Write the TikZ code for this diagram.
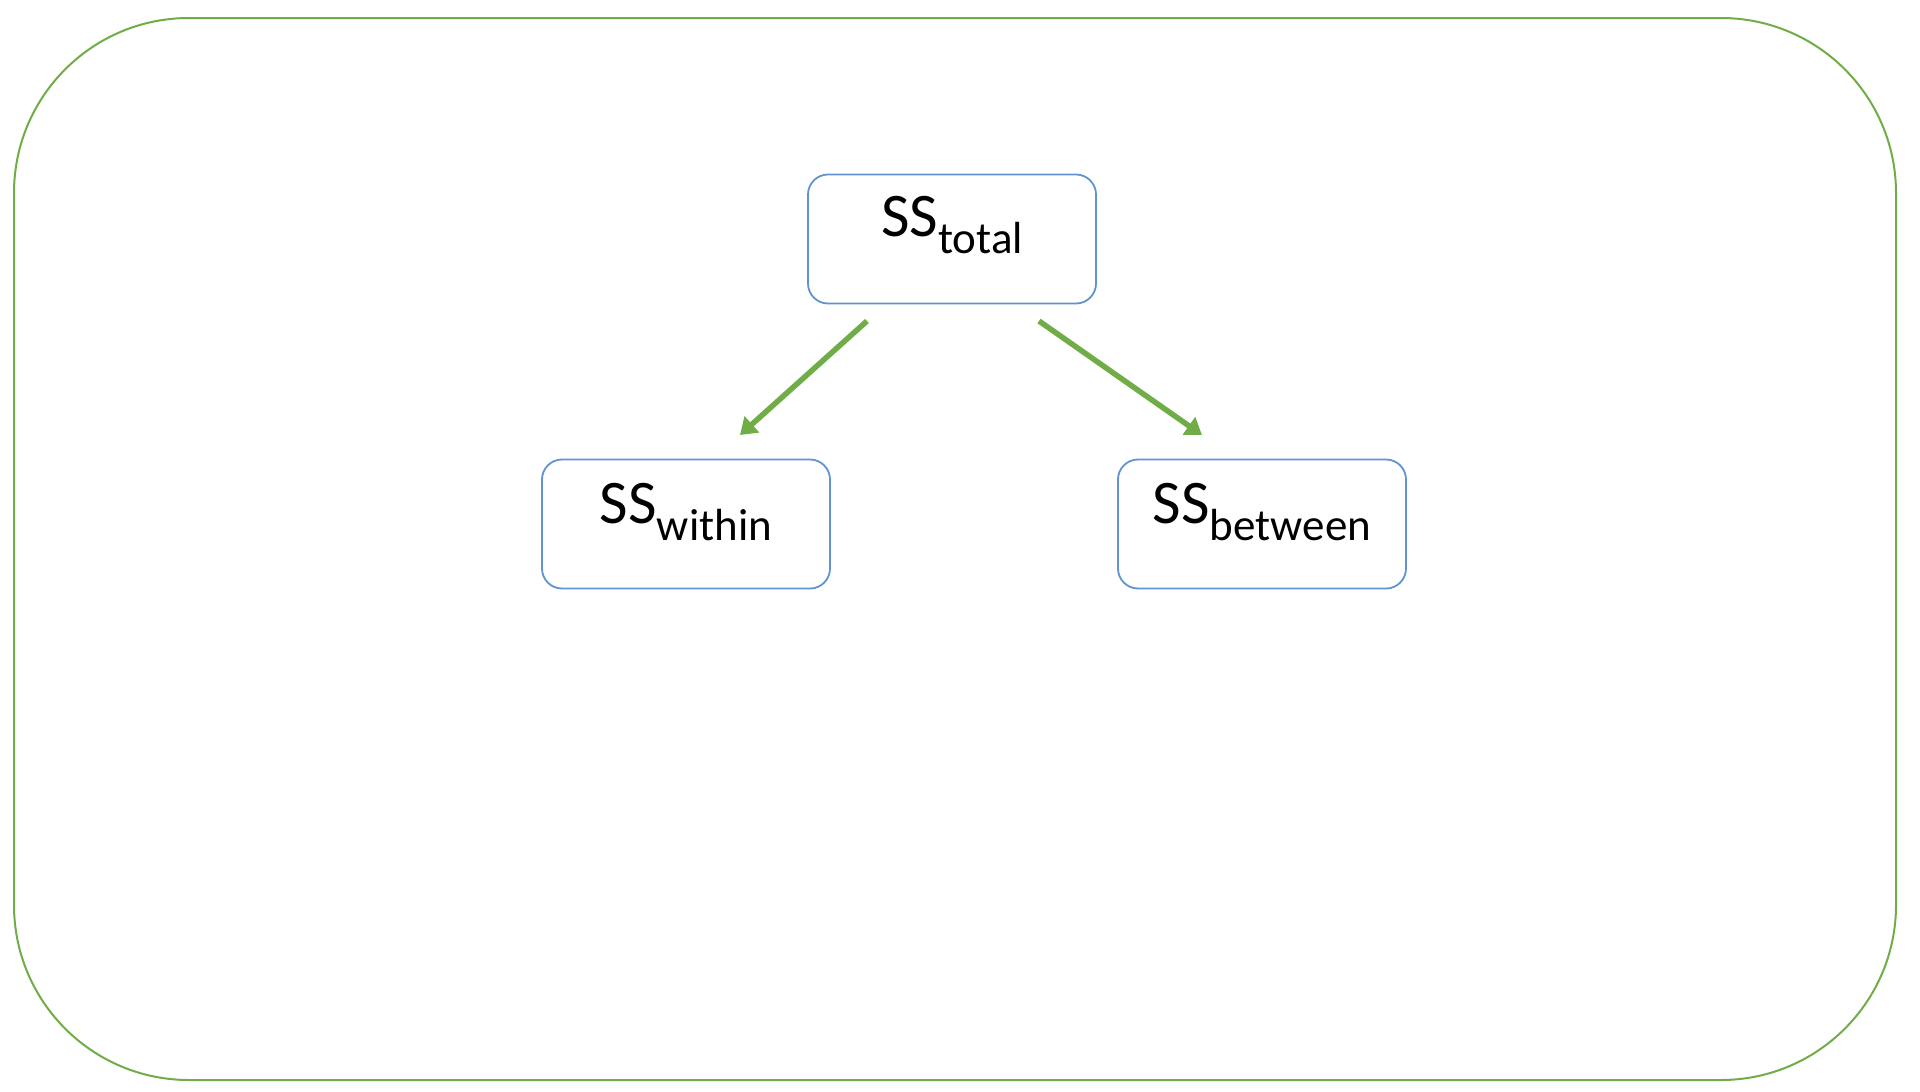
\documentclass[tikz,border=0pt]{standalone}
\usepackage{fontspec}
\setmainfont{Carlito}
\usetikzlibrary{arrows.meta}
\definecolor{ogreen}{HTML}{70AD47}
\definecolor{oblue}{HTML}{5F93D2}
\tikzset{
  ssbox/.style={draw=oblue, line width=1.8pt, rounded corners=20pt, minimum width=288pt, minimum height=129pt, inner sep=0pt},
  sslabel/.style={anchor=base, inner sep=0pt, font=\fontsize{62}{62}\selectfont},
  splitarrow/.style={draw=ogreen, line width=5.5pt, -{Triangle[length=16pt,width=21pt]}}
}
\newcommand{\sslab}[1]{SS\raisebox{-17pt}{\fontsize{45}{45}\selectfont #1}}
\begin{document}
\begin{tikzpicture}[x=1pt,y=-1pt]
\useasboundingbox (0,0) rectangle (1920,1092);
\draw[ogreen, line width=2pt, rounded corners=175pt] (14,18) rectangle (1896,1080);
\node[ssbox] (total) at (952,239) {};
\node[ssbox] (within) at (686,524) {};
\node[ssbox] (between) at (1262,524) {};
\node[sslabel] (ttotal) at (952,236) {\sslab{total}};
\node[sslabel] (twithin) at (686,523) {\sslab{within}};
\node[sslabel] (tbetween) at (1262,523) {\sslab{between}};
\coordinate (a1) at (867,321);
\coordinate (a2) at (740,435);
\coordinate (b1) at (1039,321);
\coordinate (b2) at (1202,435);
\draw[splitarrow] (a1) -- (a2);
\draw[splitarrow] (b1) -- (b2);
\end{tikzpicture}
\end{document}
